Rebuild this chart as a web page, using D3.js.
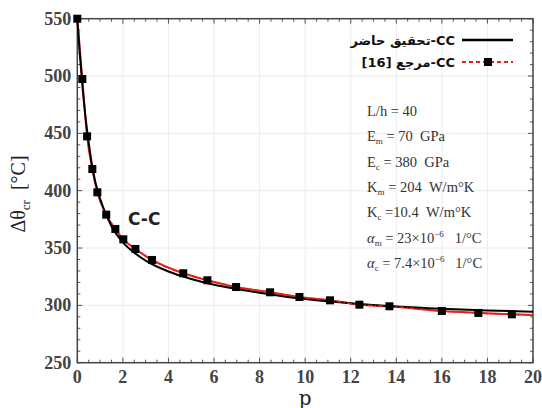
<!DOCTYPE html>
<html>
<head>
<meta charset="utf-8">
<script src="https://cdn.jsdelivr.net/npm/d3@7"></script>
<style>
  body { margin: 0; background: #fff; }
  svg { display: block; }
</style>
</head>
<body>
<svg width="542" height="408"></svg>
<script>
const svg = d3.select("svg");
const width = +svg.attr("width");
const height = +svg.attr("height");
const margin = { top: 18.7, right: 9, bottom: 45.3, left: 77.3 };

// present study curve (black solid)
const presentP = [0, 0.1, 0.2, 0.35, 0.5, 0.7, 1, 1.5, 2, 2.5, 3, 4, 5, 6, 7, 8, 9, 10, 12, 14, 16, 18, 20];
const presentT = [550, 522, 497, 466, 442, 416, 393, 369, 355, 346, 339, 329.5, 323, 318, 314.3, 311, 308, 305.5, 301.8, 299, 297, 295.5, 294.5];

// reference [16] (red dash-dot with square markers)
const refP = [0, 0.22, 0.43, 0.66, 0.88, 1.27, 1.67, 2.02, 2.55, 3.28, 4.65, 5.71, 6.97, 8.46, 9.75, 11.09, 12.38, 13.7, 16.0, 17.6, 19.07];
const refT = [550, 497.4, 447.4, 418.9, 398.6, 379.1, 366.6, 357.6, 349.2, 339.6, 328, 321.9, 316, 311.4, 307.3, 304.4, 300.6, 299.2, 295.1, 293.4, 292.2];
const refLineP = [20];
const refLineT = [291.5];

const xTicks = [0, 2, 4, 6, 8, 10, 12, 14, 16, 18, 20];
const yTicks = [250, 300, 350, 400, 450, 500, 550];

const sp = "\u00a0";
const params = [
  ["L/h = 40"],
  ["E", "m", " = 70" + sp + sp + "GPa"],
  ["E", "c", " = 380" + sp + sp + "GPa"],
  ["K", "m", " = 204" + sp + sp + "W/m°K"],
  ["K", "c", " =10.4" + sp + sp + "W/m°K"],
  ["α", "m", " = 23×10", "−6", sp + sp + sp + "1/°C"],
  ["α", "c", " = 7.4×10", "−6", sp + sp + sp + "1/°C"]
];

const x = d3.scaleLinear().domain([0, 20]).range([margin.left, width - margin.right]);
const y = d3.scaleLinear().domain([250, 550]).range([height - margin.bottom, margin.top]);

const x0 = x.range()[0], x1 = x.range()[1];
const y0 = y.range()[0], y1 = y.range()[1];

// grid
svg.append("g")
  .selectAll("line")
  .data(xTicks.slice(1, -1))
  .join("line")
  .attr("x1", d => x(d)).attr("x2", d => x(d))
  .attr("y1", y1).attr("y2", y0)
  .attr("stroke", "#ececec").attr("stroke-width", 1);
svg.append("g")
  .selectAll("line")
  .data(yTicks.slice(1, -1))
  .join("line")
  .attr("x1", x0).attr("x2", x1)
  .attr("y1", d => y(d)).attr("y2", d => y(d))
  .attr("stroke", "#ececec").attr("stroke-width", 1);

// ticks inside on all sides
const xMinor = d3.range(0, 20.01, 0.5);
const yMinor = d3.range(250, 550.01, 10);
const tg = svg.append("g").attr("stroke", "#555").attr("stroke-width", 1);
xMinor.forEach(d => {
  const len = xTicks.includes(d) ? 5 : 3;
  tg.append("line").attr("x1", x(d)).attr("x2", x(d)).attr("y1", y0).attr("y2", y0 - len);
  tg.append("line").attr("x1", x(d)).attr("x2", x(d)).attr("y1", y1).attr("y2", y1 + len);
});
yMinor.forEach(d => {
  const len = yTicks.includes(d) ? 5 : 3;
  tg.append("line").attr("x1", x0).attr("x2", x0 + len).attr("y1", y(d)).attr("y2", y(d));
  tg.append("line").attr("x1", x1).attr("x2", x1 - len).attr("y1", y(d)).attr("y2", y(d));
});

// frame
svg.append("rect")
  .attr("x", x0).attr("y", y1)
  .attr("width", x1 - x0).attr("height", y0 - y1)
  .attr("fill", "none").attr("stroke", "#444").attr("stroke-width", 1.5);

// tick labels
const labelFont = "'Liberation Serif', 'DejaVu Serif', serif";
svg.append("g")
  .selectAll("text")
  .data(xTicks)
  .join("text")
  .attr("x", d => x(d))
  .attr("y", y0 + 20.5)
  .attr("text-anchor", "middle")
  .attr("font-family", labelFont)
  .attr("font-size", 18)
  .attr("font-weight", "bold")
  .attr("fill", "#444")
  .text(d => d);
svg.append("g")
  .selectAll("text")
  .data(yTicks)
  .join("text")
  .attr("x", x0 - 6)
  .attr("y", d => y(d) + 6)
  .attr("text-anchor", "end")
  .attr("font-family", labelFont)
  .attr("font-size", 18)
  .attr("font-weight", "bold")
  .attr("fill", "#444")
  .text(d => d);

// axis titles
svg.append("text")
  .attr("x", (x0 + x1) / 2)
  .attr("y", 405)
  .attr("text-anchor", "middle")
  .attr("font-family", "'DejaVu Serif', serif")
  .attr("font-size", 20)
  .attr("fill", "#222")
  .text("p");

const yl = svg.append("text")
  .attr("transform", "translate(25,194) rotate(-90)")
  .attr("text-anchor", "middle")
  .attr("font-family", labelFont)
  .attr("font-size", 20)
  .attr("fill", "#222");
yl.append("tspan").text("Δθ");
yl.append("tspan").attr("font-size", 13).attr("dy", 5).text("cr");
yl.append("tspan").attr("dy", -5).text(sp + sp + "[°C]");

// curves
const presentData = presentP.map((p, i) => [p, presentT[i]]);
const refData = refP.map((p, i) => [p, refT[i]]);
const refLineData = refData.concat(refLineP.map((p, i) => [p, refLineT[i]]));

const line = d3.line()
  .x(d => x(d[0]))
  .y(d => y(d[1]))
  .curve(d3.curveMonotoneX);

svg.append("path")
  .datum(refLineData)
  .attr("d", line)
  .attr("fill", "none")
  .attr("stroke", "#e8201a")
  .attr("stroke-width", 2);

svg.append("path")
  .datum(presentData)
  .attr("d", line)
  .attr("fill", "none")
  .attr("stroke", "#000")
  .attr("stroke-width", 2);

svg.append("path")
  .datum(refLineData.filter(d => d[0] >= 2.5))
  .attr("d", line)
  .attr("fill", "none")
  .attr("stroke", "#e8201a")
  .attr("stroke-width", 1.6)
  .attr("stroke-dasharray", "5,2,1.5,2");

const ms = 8;
svg.append("g")
  .selectAll("rect")
  .data(refData)
  .join("rect")
  .attr("x", d => x(d[0]) - ms / 2)
  .attr("y", d => y(d[1]) - ms / 2)
  .attr("width", ms)
  .attr("height", ms)
  .attr("fill", "#000");

// C-C label
svg.append("text")
  .attr("x", 128)
  .attr("y", 225)
  .attr("font-family", "'DejaVu Sans', sans-serif")
  .attr("font-size", 17)
  .attr("font-weight", "bold")
  .attr("fill", "#222")
  .text("C-C");

// legend
const legendFont = "'DejaVu Sans', sans-serif";
svg.append("line")
  .attr("x1", 462).attr("x2", 513).attr("y1", 40).attr("y2", 40)
  .attr("stroke", "#000").attr("stroke-width", 2.5);
svg.append("text")
  .attr("x", 455).attr("y", 45)
  .attr("direction", "rtl")
  .attr("text-anchor", "start")
  .attr("font-family", legendFont)
  .attr("font-size", 13)
  .attr("font-weight", "bold")
  .attr("fill", "#111")
  .text("CC-تحقيق حاضر");

svg.append("line")
  .attr("x1", 462).attr("x2", 513).attr("y1", 62).attr("y2", 62)
  .attr("stroke", "#e8201a").attr("stroke-width", 2)
  .attr("stroke-dasharray", "4,3");
svg.append("rect")
  .attr("x", 488 - ms / 2).attr("y", 62 - ms / 2)
  .attr("width", ms).attr("height", ms)
  .attr("fill", "#000");
svg.append("text")
  .attr("x", 455).attr("y", 67)
  .attr("direction", "rtl")
  .attr("text-anchor", "start")
  .attr("font-family", legendFont)
  .attr("font-size", 13)
  .attr("font-weight", "bold")
  .attr("fill", "#111")
  .text("CC-مرجع [16]");

// parameter block
const pg = svg.append("g")
  .attr("font-family", "'Liberation Serif', serif")
  .attr("font-size", 14.5)
  .attr("fill", "#333");
params.forEach((parts, i) => {
  const t = pg.append("text").attr("x", 367).attr("y", 116 + i * 25.3);
  if (parts.length === 1) {
    t.text(parts[0]);
    return;
  }
  t.append("tspan").attr("font-style", parts[0] === "α" ? "italic" : "normal").text(parts[0]);
  t.append("tspan").attr("font-size", 9).attr("dy", 3).text(parts[1]);
  t.append("tspan").attr("dy", -3).text(parts[2]);
  if (parts.length > 3) {
    t.append("tspan").attr("font-size", 9).attr("dy", -6).text(parts[3]);
    t.append("tspan").attr("dy", 6).text(parts[4]);
  }
});
</script>
</body>
</html>
